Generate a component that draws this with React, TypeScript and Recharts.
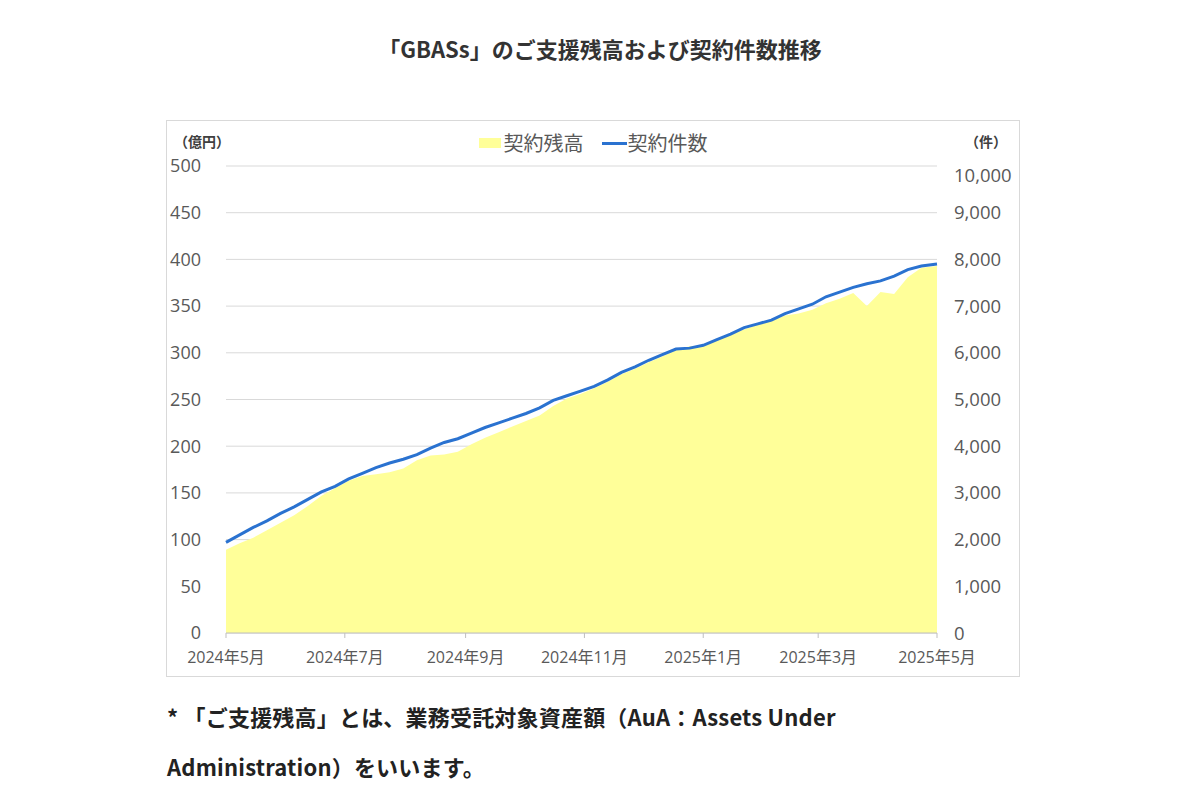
import { ComposedChart, Area, Line, XAxis, YAxis, CartesianGrid } from 'recharts';

// days since 2024-05-01, sampled weekly
const dayOffsets = [
  0, 7, 14, 21, 28, 35, 42, 49, 56, 63, 70, 77, 84, 91, 98, 105, 112, 119, 126, 133,
  140, 147, 154, 161, 168, 175, 182, 189, 196, 203, 210, 217, 224, 231, 238, 245, 252, 259, 266, 273,
  280, 287, 294, 301, 308, 315, 322, 329, 336, 343, 350, 357, 365,
];

// 契約残高（億円）
const balance = [
  89, 96, 102, 110, 118, 126, 136, 147, 155, 163, 168, 170, 172, 176, 185, 190, 191, 194, 202, 209,
  215, 221, 227, 233, 243, 251, 256, 262, 269, 277, 283, 290, 296, 303, 307, 307, 315, 320, 325, 330,
  334, 340, 342, 346, 353, 358, 364, 350, 365, 363, 381, 391, 393,
];

// 契約件数（件）
const contracts = [
  1940, 2100, 2260, 2400, 2560, 2700, 2860, 3020, 3140, 3300, 3420, 3540, 3640, 3720, 3820, 3960, 4080, 4160, 4280, 4400,
  4500, 4600, 4700, 4820, 4980, 5080, 5180, 5280, 5420, 5580, 5700, 5840, 5960, 6080, 6100, 6160, 6280, 6400, 6540, 6620,
  6700, 6840, 6940, 7040, 7200, 7300, 7400, 7480, 7540, 7640, 7780, 7860, 7900,
];

const xTickDays = [0, 61, 123, 184, 245, 304, 365];
const xTickLabels = ['2024年5月', '2024年7月', '2024年9月', '2024年11月', '2025年1月', '2025年3月', '2025年5月'];
const leftTicks = [0, 50, 100, 150, 200, 250, 300, 350, 400, 450, 500];
const rightTicks = [0, 1000, 2000, 3000, 4000, 5000, 6000, 7000, 8000, 9000, 10000];

const chartData = dayOffsets.map((t, i) => ({ t, balance: balance[i], contracts: contracts[i] }));

const AXIS_FONT = '"Open Sans", "Noto Sans CJK JP", sans-serif';
const JP_FONT = '"Noto Sans CJK JP", sans-serif';

function RightTick(props: any) {
  const { x, y, payload } = props;
  const shift = payload.value === 10000 ? 9 : 0;
  return (
    <text x={x} y={y + shift} dy="0.355em" textAnchor="start" fill="#595959" fontSize={18.5} fontFamily={AXIS_FONT}>
      {Number(payload.value).toLocaleString('en-US')}
    </text>
  );
}

export default function App() {
  return (
    <div style={{ position: 'absolute', left: 0, top: 0, width: 1200, height: 800, background: '#fff', fontFamily: JP_FONT }}>
      <div style={{
        position: 'absolute', left: 0, width: 1200, top: 33, textAlign: 'center',
        fontSize: 22, fontWeight: 700, color: '#333', lineHeight: '30px',
      }}>
        「GBASs」のご支援残高および契約件数推移
      </div>

      <div style={{ position: 'absolute', left: 166, top: 120, width: 852, height: 555, border: '1px solid #d9d9d9' }}>
        <ComposedChart width={852} height={555} data={chartData} margin={{ top: 45, right: 0, bottom: 0, left: 0 }}>
          <CartesianGrid yAxisId="left" vertical={false} stroke="#d9d9d9" />
          <XAxis
            dataKey="t"
            type="number"
            domain={[0, 365]}
            ticks={xTickDays}
            tickFormatter={(v) => xTickLabels[xTickDays.indexOf(v)] ?? ''}
            interval={0}
            height={43}
            stroke="#bfbfbf"
            tickSize={5}
            tickMargin={14}
            tick={{ fill: '#595959', fontSize: 16, fontFamily: AXIS_FONT }}
          />
          <YAxis
            yAxisId="left"
            domain={[0, 500]}
            ticks={leftTicks}
            width={59}
            axisLine={false}
            tickLine={false}
            tickSize={6}
            tickMargin={19}
            tick={{ fill: '#595959', fontSize: 18, fontFamily: AXIS_FONT }}
          />
          <YAxis
            yAxisId="right"
            orientation="right"
            domain={[0, 10000]}
            ticks={rightTicks}
            width={82}
            axisLine={false}
            tickLine={false}
            tickSize={6}
            tickMargin={11}
            tick={<RightTick />}
          />
          <Area
            yAxisId="left"
            dataKey="balance"
            name="契約残高"
            type="linear"
            fill="#ffff99"
            fillOpacity={1}
            stroke="none"
            isAnimationActive={false}
          />
          <Line
            yAxisId="right"
            dataKey="contracts"
            name="契約件数"
            type="linear"
            stroke="#2a72d0"
            strokeWidth={3}
            dot={false}
            isAnimationActive={false}
          />
        </ComposedChart>

        <div style={{ position: 'absolute', left: 7, top: 10, fontSize: 14, fontWeight: 700, color: '#404040' }}>（億円）</div>
        <div style={{ position: 'absolute', left: 798, top: 10, fontSize: 14, fontWeight: 700, color: '#404040' }}>（件）</div>

        <div style={{
          position: 'absolute', left: 0, top: 8, width: 852, display: 'flex', justifyContent: 'center',
          alignItems: 'center', fontSize: 20, color: '#595959', lineHeight: '28px',
        }}>
          <span style={{ display: 'inline-block', width: 22, height: 10, background: '#ffff99', marginRight: 3 }} />
          <span style={{ marginRight: 18 }}>契約残高</span>
          <span style={{ display: 'inline-block', width: 25, height: 3, background: '#2a72d0', marginRight: 1 }} />
          <span>契約件数</span>
        </div>
      </div>

      <div style={{
        position: 'absolute', left: 167, top: 691, fontSize: 22, fontWeight: 700, color: '#222',
        lineHeight: '50px', letterSpacing: 0.2,
      }}>
        *&nbsp;「ご支援残高」とは、業務受託対象資産額（AuA：Assets Under<br />
        Administration）をいいます。
      </div>
    </div>
  );
}
